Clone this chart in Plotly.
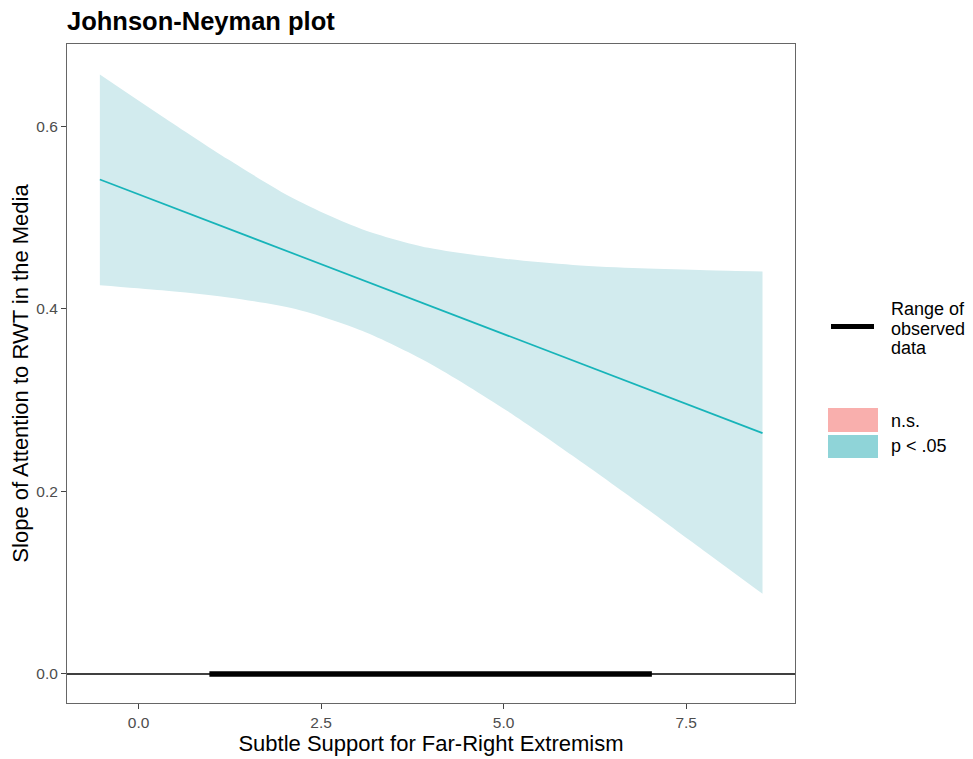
import plotly.graph_objects as go

# Moderator values (Subtle Support for Far-Right Extremism)
mod_x = [-0.53, 0.32, 1.23, 2.15, 3.06, 3.97, 5.04, 5.95, 6.87, 7.78, 8.545]
# Confidence band
ci_upper = [0.6567, 0.611, 0.5635, 0.5196, 0.4872, 0.4667, 0.4546, 0.4480, 0.4443, 0.4421, 0.4407]
ci_lower = [0.4258, 0.4202, 0.4124, 0.3997, 0.3758, 0.3408, 0.2885, 0.2387, 0.1862, 0.1328, 0.0878]
# Simple slope line
slope_x = [-0.53, 8.545]
slope_y = [0.5416, 0.2638]
# Range of observed data
obs_range = [0.97, 7.03]

x_ticks = [0.0, 2.5, 5.0, 7.5]
x_ticklabels = ["0.0", "2.5", "5.0", "7.5"]
y_ticks = [0.0, 0.2, 0.4, 0.6]
y_ticklabels = ["0.0", "0.2", "0.4", "0.6"]

legend_range_lines = ["Range of", "observed", "data"]
legend_fill_labels = ["n.s.", "p &lt; .05"]

font = "Liberation Sans, Arial, sans-serif"
W, H = 965, 751          # page body has an 8px margin
L, T, PW, PH = 59, 36, 728, 659

fig = go.Figure()
fig.add_trace(go.Scatter(x=mod_x, y=ci_upper, mode="lines", line=dict(width=0, shape="spline", smoothing=0.8),
                         showlegend=False, hoverinfo="skip"))
fig.add_trace(go.Scatter(x=mod_x, y=ci_lower, mode="lines", line=dict(width=0, shape="spline", smoothing=0.8),
                         fill="tonexty", fillcolor="#D2EBEE", showlegend=False, hoverinfo="skip"))
fig.add_trace(go.Scatter(x=slope_x, y=slope_y, mode="lines", line=dict(color="#17B4B9", width=1.7),
                         showlegend=False))
fig.add_hline(y=0, line=dict(color="black", width=1.4))
fig.add_trace(go.Scatter(x=obs_range, y=[0, 0], mode="lines", line=dict(color="black", width=5.5),
                         showlegend=False))

axis_common = dict(showgrid=False, zeroline=False, showline=True, linecolor="#666666", linewidth=1, mirror=True,
                   ticks="outside", ticklen=5, tickcolor="#444444", tickfont=dict(size=15.5, color="#4D4D4D"),
                   automargin=False)

fig.update_layout(
    width=W, height=H,
    margin=dict(l=L, r=W - L - PW, t=T, b=H - T - PH),
    plot_bgcolor="white", paper_bgcolor="white",
    font=dict(family=font, color="#4D4D4D"),
    title=dict(text="<b>Johnson-Neyman plot</b>", x=L / W, xanchor="left", y=1 - 13 / H, yanchor="middle",
               font=dict(size=25.5, color="black", family=font)),
    xaxis=dict(range=[-0.98, 8.99], tickvals=x_ticks, ticktext=x_ticklabels, **axis_common,
               title=dict(text="Subtle Support for Far-Right Extremism", font=dict(size=22, color="black"), standoff=4)),
    yaxis=dict(range=[-0.0318, 0.690], tickvals=y_ticks, ticktext=y_ticklabels, **axis_common,
               title=dict(text="Slope of Attention to RWT in the Media", font=dict(size=22, color="black"), standoff=6)),
)

def px(xp):
    return (xp - 67) / PW

def py(yp):
    return (703 - yp) / PH

# Manual legend
fig.add_shape(type="line", xref="paper", yref="paper", x0=px(831), x1=px(874), y0=py(326.5), y1=py(326.5),
              line=dict(color="black", width=5))
for txt, yc in zip(legend_range_lines, [309, 329, 348]):
    fig.add_annotation(xref="paper", yref="paper", x=px(889), y=py(yc), xanchor="left", yanchor="middle",
                       text=txt, showarrow=False, font=dict(size=18, color="black", family=font))
fig.add_shape(type="rect", xref="paper", yref="paper", x0=px(828), x1=px(878), y0=py(432), y1=py(408),
              fillcolor="#F9AFAD", line=dict(width=0))
fig.add_shape(type="rect", xref="paper", yref="paper", x0=px(828), x1=px(878), y0=py(458), y1=py(435),
              fillcolor="#8FD4D8", line=dict(width=0))
for txt, yc in zip(legend_fill_labels, [421, 446]):
    fig.add_annotation(xref="paper", yref="paper", x=px(889), y=py(yc), xanchor="left", yanchor="middle",
                       text=txt, showarrow=False, font=dict(size=18, color="black", family=font))

fig.write_html("out.html")
